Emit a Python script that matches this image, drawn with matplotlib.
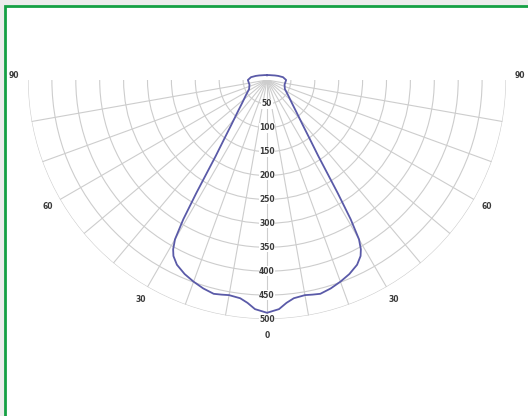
import matplotlib
matplotlib.use("Agg")
import matplotlib.pyplot as plt
import numpy as np
from matplotlib.patches import Rectangle

# Luminous intensity (cd/klm) against angle from nadir, one half of a symmetric curve
angles_deg = [0, 3, 5, 7, 10, 12, 14, 17, 20, 23, 26, 28, 29, 30, 31, 32, 33, 34,
              36, 38.5, 42, 47.5, 55, 63, 75, 90, 100, 110, 120, 135, 160, 180]
intensity = [487, 480, 468, 460, 457, 459, 461, 456, 449, 441, 430, 417, 405, 385,
             340, 280, 228, 192, 152, 120, 94, 70, 53, 42, 38, 40, 34, 25, 19, 14, 11, 10]

ring_values = [50, 100, 150, 200, 250, 300, 350, 400, 450, 500]
angle_labels = [90, 60, 30, 0, 30, 60, 90]
angle_label_pos = [-91, -60, -30, 0, 30, 60, 91]

grid_color = "#cdcdcd"
curve_color = "#5a5aa8"
text_color = "#3a3a3a"

W, H = 528, 416
fig = plt.figure(figsize=(W / 100, H / 100), dpi=100)
fig.patch.set_facecolor("#ececec")

# white panel with green frame (runs off the right and bottom edges)
frame = Rectangle((5 / W, -0.05), 1.1, (H - 6) / H + 0.05, transform=fig.transFigure,
                  facecolor="white", edgecolor="#15a044", linewidth=2.0, clip_on=False,
                  zorder=-10)
fig.patches.append(frame)

# half-wedge polar axes shrink into the middle of their box, so the box is twice the disk
R, cx, cy = 239, 267, 80
ax = fig.add_axes([(cx - 2 * R) / W, 1 - (cy + 1.5 * R) / H, 4 * R / W, 2 * R / H],
                  projection="polar")
ax.set_zorder(1)
ax.set_theta_zero_location("S")
ax.set_thetamin(-90)
ax.set_thetamax(90)
ax.set_ylim(0, 500)
ax.set_frame_on(False)

ax.set_rticks(ring_values)
ax.set_thetagrids(np.arange(-80, 81, 10))
ax.set_yticklabels([])
ax.set_xticklabels([])
ax.tick_params(length=0)
ax.grid(True, color=grid_color, linewidth=0.8)

# radial scale along the nadir line
for v in ring_values:
    ax.text(0, v, str(v), ha="center", va="center", fontsize=5.5, color=text_color,
            fontweight="bold",
            bbox=dict(boxstyle="square,pad=0.05", facecolor="white", edgecolor="none"))

# angle labels outside the outer ring
for lab, a in zip(angle_labels, angle_label_pos):
    ax.text(np.radians(a), 535 if a == 0 else 530, str(lab), ha="center", va="center",
            fontsize=5.5, fontweight="bold", color=text_color, clip_on=False)

# mirror the half curve to get the full symmetric distribution
th = np.radians(angles_deg)
r = np.array(intensity, dtype=float)
theta_full = np.concatenate([-th[::-1], th[1:]])
r_full = np.concatenate([r[::-1], r[1:]])
ax.plot(theta_full, r_full, color=curve_color, linewidth=1.3, clip_on=False)

fig.savefig("out.png", dpi=100)
